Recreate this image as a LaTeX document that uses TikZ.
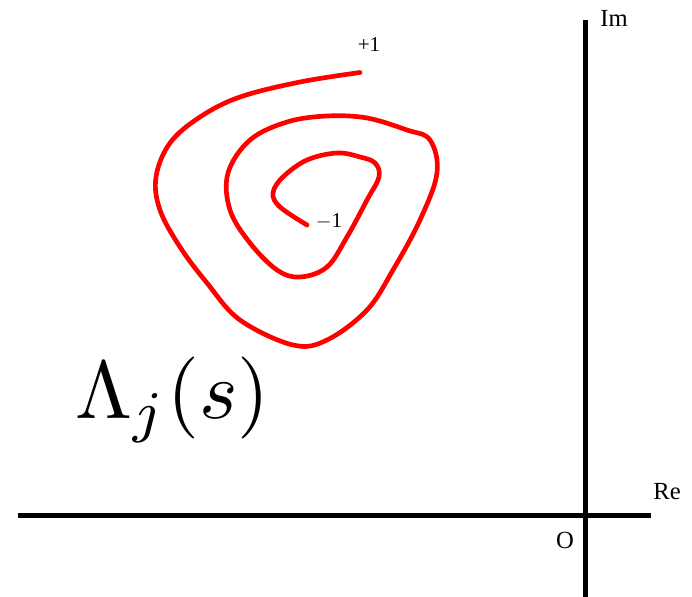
\documentclass[tikz,border=0pt]{standalone}
\usepackage{fontspec}
\setmainfont{Liberation Serif}
\begin{document}
\begin{tikzpicture}[x=0.03cm, y=-0.03cm]
\useasboundingbox (0,0) rectangle (692,597);
\coordinate (reL) at (18,515.5);
\coordinate (reR) at (651,515.5);
\coordinate (imT) at (585.5,20);
\coordinate (imB) at (585.5,597);
\draw[line width=0.15cm] (reL) -- (reR);
\draw[line width=0.15cm] (imB) -- (imT);
\node[font=\fontsize{21}{23}\selectfont] (im) at (614,18) {Im};
\node[font=\fontsize{21}{23}\selectfont] (re) at (667,492) {Re};
\node[font=\fontsize{21}{23}\selectfont] (orig) at (565,540) {O};
\draw[red, line width=0.14cm, line cap=round, line join=round] plot[smooth, tension=0.6] coordinates {
  (360,72.5) (300,82) (240,97) (200,117) (170,143) (156,177) (160,210)
  (180,247) (207,283) (240,320) (293,345) (327,340) (367,310) (393,270)
  (420,220) (437,173) (430,140) (407,130) (367,118) (327,116) (287,122)
  (250,140) (228,173) (230,210) (250,243) (277,270) (300,277) (327,267)
  (347,237) (367,200) (379,177) (375,163) (360,157) (337,153) (307,160)
  (283,177) (273,193) (280,207) (307,225)};
\node[font=\fontsize{18}{20}\selectfont] (plusone) at (369,45) {+1};
\node[font=\fontsize{18}{20}\selectfont] (minusone) at (329,221) {$-$1};
\node[scale=7, inner sep=0pt, anchor=base west] (lam) at (74,419) {$\Lambda_j(s)$};
\end{tikzpicture}
\end{document}
